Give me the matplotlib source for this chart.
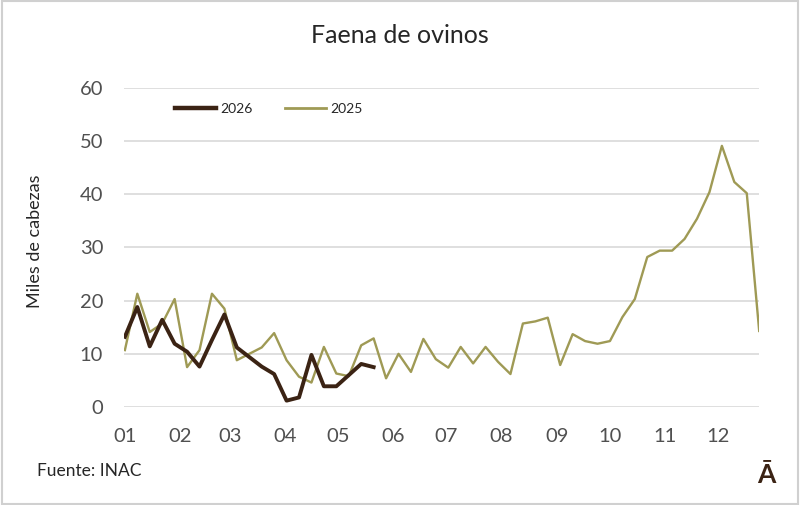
import numpy as np
import matplotlib
matplotlib.use('Agg')
import matplotlib.pyplot as plt
from matplotlib.lines import Line2D
from matplotlib.patches import Rectangle

plt.rcParams['font.family'] = ['Lato', 'DejaVu Sans']

# weekly slaughter, thousands of head
faena_2026 = [13.2, 18.8, 11.4, 16.4, 11.9, 10.4, 7.6, 12.6, 17.4, 11.2, 9.4,
              7.6, 6.2, 1.2, 1.8, 9.8, 3.9, 3.9, 6.0, 8.1, 7.5]
faena_2025 = [10.7, 21.3, 14.1, 15.7, 20.3, 7.5, 10.7, 21.3, 18.5, 8.8, 10.0,
              11.2, 13.9, 8.8, 5.7, 4.6, 11.3, 6.3, 5.8, 11.6, 12.9, 5.4,
              10.0, 6.6, 12.8, 9.0, 7.4, 11.3, 8.2, 11.3, 8.5, 6.2, 15.7,
              16.1, 16.8, 7.9, 13.7, 12.4, 11.9, 12.4, 16.9, 20.3, 28.2,
              29.4, 29.4, 31.6, 35.4, 40.4, 49.1, 42.3, 40.2, 14.3]
mes_dia = [0, 31, 59, 90, 120, 151, 181, 212, 243, 273, 304, 334]
mes_label = ['01', '02', '03', '04', '05', '06', '07', '08', '09', '10', '11', '12']

c26 = '#3b2314'
c25 = '#9f9a55'
gris = '#505050'

fig = plt.figure(figsize=(8, 5.05), dpi=100)
ax = fig.add_axes([0.155, 0.194, 0.794, 0.632])

x25 = np.arange(len(faena_2025)) * 7
x26 = np.arange(len(faena_2026)) * 7
ax.plot(x25, faena_2025, color=c25, lw=1.7, zorder=3)
ax.plot(x26, faena_2026, color=c26, lw=2.8, zorder=4)

ax.set_xlim(-0.5, 357)
ax.set_ylim(0, 60)
ax.set_yticks(range(0, 61, 10))
ax.set_xticks(mes_dia)
ax.set_xticklabels(mes_label)
ax.grid(axis='y', color='#d9d9d9', lw=1.2)
ax.set_axisbelow(True)
for s in ax.spines.values():
    s.set_visible(False)
ax.tick_params(length=0, labelsize=14.5, colors=gris)
ax.tick_params(axis='x', pad=15)
ax.tick_params(axis='y', pad=15)

fig.text(0.5, 0.93, 'Faena de ovinos', ha='center', va='center', fontsize=18, color='#262626')
fig.text(0.044, 0.523, 'Miles de cabezas', rotation=90, ha='center', va='center',
         fontsize=13, color='#262626')
fig.text(0.046, 0.067, 'Fuente: INAC', ha='left', va='center', fontsize=12.5, color='#262626')
fig.text(0.958, 0.06, 'Ā', ha='center', va='center', fontsize=19, fontweight='bold', color=c26)

handles = [Line2D([], [], color=c26, lw=3.2), Line2D([], [], color=c25, lw=2)]
ax.legend(handles, ['2026', '2025'], ncol=2, frameon=False, fontsize=10,
          loc='center left', bbox_to_anchor=(0.06, 0.935), handlelength=3.0,
          handletextpad=0.3, columnspacing=2.3, labelcolor='#262626')

fig.patches.append(Rectangle((0.002, 0.002), 0.996, 0.996, transform=fig.transFigure,
                             fill=False, edgecolor='#d0d0d0', lw=1.5))

fig.savefig('out.png', dpi=100)
